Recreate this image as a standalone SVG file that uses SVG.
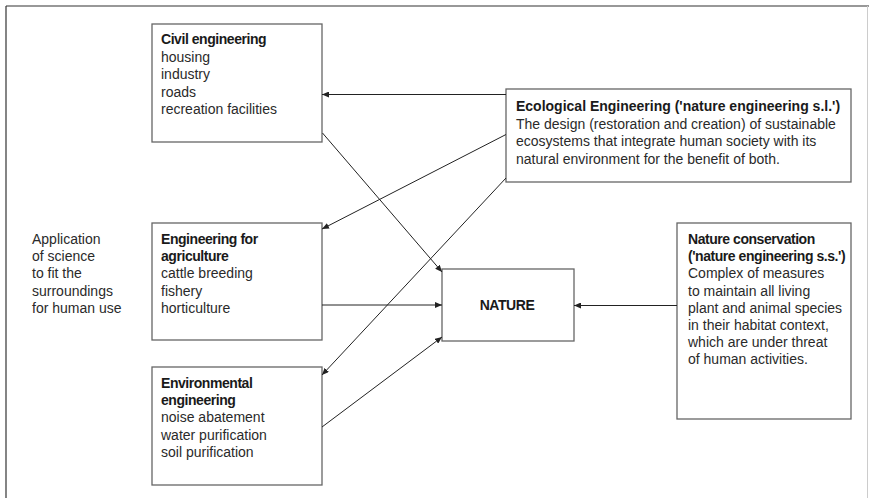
<svg xmlns="http://www.w3.org/2000/svg" width="869" height="498" viewBox="0 0 869 498">
<defs>
<marker id="ah" markerWidth="7" markerHeight="6" refX="7" refY="3" orient="auto" markerUnits="userSpaceOnUse">
<path d="M0,0 L7,3 L0,6 z" fill="#222"/>
</marker>
<style>
.box{fill:#fff;stroke:#666;stroke-width:1.3}
.t{font-family:"Liberation Sans",Arial,sans-serif;font-size:14px;fill:#2a2a2a}
.b{font-weight:bold;fill:#1a1a1a;font-size:14px;letter-spacing:-0.45px}
.bt{font-weight:bold;fill:#1a1a1a;font-size:14px}
.c{fill:none;stroke:#222;stroke-width:1}
</style>
</defs>
<rect width="869" height="498" fill="#fff"/>
<g id="frame">
<line x1="6" y1="6" x2="869" y2="6" stroke="#333" stroke-width="1.2"/>
<line x1="6" y1="6" x2="6" y2="498" stroke="#333" stroke-width="1.2"/>
<line x1="867.5" y1="6" x2="867.5" y2="498" stroke="#ccc" stroke-width="1"/>
</g>
<g id="label-left">
<text class="t" x="32"><tspan x="32" y="244">Application</tspan><tspan x="32" y="261">of science</tspan><tspan x="32" y="278">to fit the</tspan><tspan x="32" y="296">surroundings</tspan><tspan x="32" y="313">for human use</tspan></text>
</g>
<g id="civil">
<rect class="box" x="152" y="24" width="170" height="118"/>
<text class="t"><tspan class="b" x="161" y="44">Civil engineering</tspan><tspan x="161" y="61.5">housing</tspan><tspan x="161" y="79">industry</tspan><tspan x="161" y="96.5">roads</tspan><tspan x="161" y="114">recreation facilities</tspan></text>
</g>
<g id="agriculture">
<rect class="box" x="152" y="223" width="170" height="117"/>
<text class="t"><tspan class="b" x="161" y="244">Engineering for</tspan><tspan class="b" x="161" y="261">agriculture</tspan><tspan x="161" y="278">cattle breeding</tspan><tspan x="161" y="295.5">fishery</tspan><tspan x="161" y="312.5">horticulture</tspan></text>
</g>
<g id="environmental">
<rect class="box" x="152" y="367" width="170" height="118"/>
<text class="t"><tspan class="b" x="161" y="388">Environmental</tspan><tspan class="b" x="161" y="405">engineering</tspan><tspan x="161" y="422">noise abatement</tspan><tspan x="161" y="439.5">water purification</tspan><tspan x="161" y="457">soil purification</tspan></text>
</g>
<g id="nature">
<rect class="box" x="442" y="269" width="132" height="72"/>
<text class="t b" x="507" y="310" text-anchor="middle">NATURE</text>
</g>
<g id="ecological">
<rect class="box" x="506" y="89" width="345" height="93"/>
<text class="t"><tspan class="bt" x="516" y="111">Ecological Engineering ('nature engineering s.l.')</tspan><tspan x="516" y="128.5">The design (restoration and creation) of sustainable</tspan><tspan x="516" y="146">ecosystems that integrate human society with its</tspan><tspan x="516" y="163.5">natural environment for the benefit of both.</tspan></text>
</g>
<g id="conservation">
<rect class="box" x="677" y="223" width="174" height="196"/>
<text class="t"><tspan class="b" x="688" y="244">Nature conservation</tspan><tspan class="b" x="688" y="261">('nature engineering s.s.')</tspan><tspan x="688" y="278">Complex of measures</tspan><tspan x="688" y="295.5">to maintain all living</tspan><tspan x="688" y="312.5">plant and animal species</tspan><tspan x="688" y="329.5">in their habitat context,</tspan><tspan x="688" y="346.5">which are under threat</tspan><tspan x="688" y="363.5">of human activities.</tspan></text>
</g>
<g id="connectors">
<line class="c" x1="506" y1="94.5" x2="322" y2="94.5" marker-end="url(#ah)"/>
<line class="c" x1="506" y1="134.5" x2="322" y2="229" marker-end="url(#ah)"/>
<line class="c" x1="506" y1="178" x2="322" y2="375" marker-end="url(#ah)"/>
<line class="c" x1="322.5" y1="133" x2="442" y2="272" marker-end="url(#ah)"/>
<line class="c" x1="322" y1="305" x2="442" y2="305" marker-end="url(#ah)"/>
<line class="c" x1="322" y1="427" x2="442" y2="337" marker-end="url(#ah)"/>
<line class="c" x1="677" y1="305.5" x2="574" y2="305.5" marker-end="url(#ah)"/>
</g>
</svg>
